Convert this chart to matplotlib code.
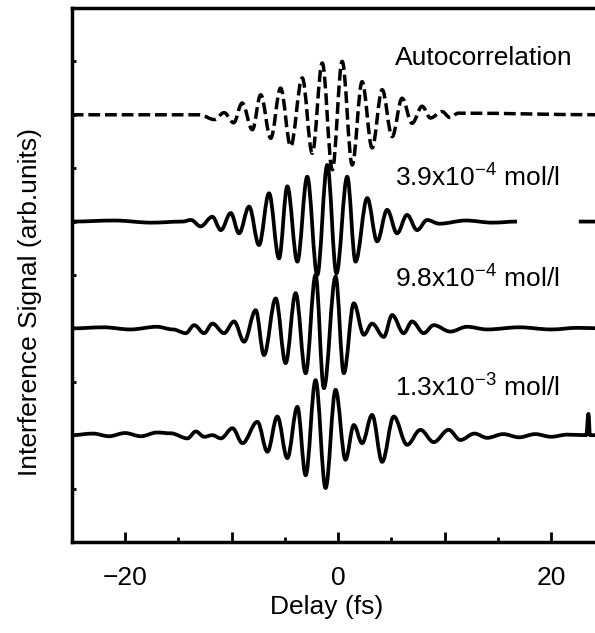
import numpy as np
import matplotlib
matplotlib.use("Agg")
import matplotlib.pyplot as plt
from matplotlib.path import Path
from matplotlib.patches import PathPatch

# peaks / troughs of each trace
# delay in fs, signal relative to the trace baseline (arb. units)
auto_delay = [-25, -13.0, -11.6, -10.7, -9.8, -9.0, -8.04, -7.26, -6.32, -5.39,
              -4.45, -3.36, -2.42, -1.48, -0.54, 0.39, 1.33, 2.26, 3.20, 4.14,
              5.08, 6.01, 6.95, 7.89, 8.67, 9.76, 10.5, 11.3, 25]
auto_signal = [0, 0, -0.09, 0.04, -0.15, 0.22, -0.28, 0.375, -0.44, 0.50,
               -0.59, 0.69, -0.72, 0.97, -1.03, 1.0, -0.94, 0.62, -0.62, 0.47,
               -0.41, 0.31, -0.16, 0.16, -0.06, 0.06, -0.05, 0.03, 0]

c39_delay = [-25, -21.0, -17.5, -14.6, -13.8, -12.9, -11.8, -11.0, -10.07, -9.29,
             -8.35, -7.42, -6.48, -5.54, -4.76, -3.82, -2.89, -1.95, -1.01, -0.15,
             0.86, 1.64, 2.74, 3.67, 4.61, 5.54, 6.48, 7.42, 8.36, 9.5,
             12.0, 14.5, 16.8, 19.0, 22.6, 25]
c39_signal = [0, 0.02, -0.02, 0.0, 0.03, -0.09, 0.09, -0.16, 0.16, -0.22,
              0.28, -0.44, 0.53, -0.69, 0.66, -0.75, 0.84, -1.0, 1.06, -0.97,
              0.84, -0.75, 0.44, -0.37, 0.22, -0.22, 0.125, -0.16, 0.03, -0.04,
              0.02, -0.02, 0.0, np.nan, 0.0, 0.0]

c98_delay = [-25, -22.0, -19.5, -17.0, -15.5, -14.29, -13.5, -12.57, -11.79, -10.7,
             -9.76, -8.82, -7.73, -6.95, -5.85, -4.92, -3.98, -3.04, -2.11, -1.33,
             -0.23, 0.54, 1.48, 2.42, 3.2, 4.29, 5.08, 6.16, 6.95, 8.04,
             8.98, 10.54, 12.1, 14.0, 17.0, 20.0, 22.5, 25]
c98_signal = [0, 0.02, -0.02, 0.03, -0.02, -0.09, 0.06, -0.09, 0.09, -0.09,
              0.13, -0.25, 0.34, -0.5, 0.56, -0.65, 0.66, -0.84, 1.0, -1.12,
              0.97, -0.84, 0.47, -0.12, 0.09, -0.16, 0.25, -0.09, 0.13, -0.09,
              0.06, -0.06, 0.03, -0.02, 0.02, -0.02, 0.01, 0]

c13_delay = [-25, -23.0, -21.5, -20.0, -18.5, -17.0, -15.69, -14.13, -13.35, -12.57,
             -11.79, -11.0, -9.91, -8.97, -7.57, -6.63, -5.7, -4.76, -3.82, -3.04,
             -2.11, -1.17, -0.23, 0.70, 1.48, 2.26, 3.2, 4.14, 5.23, 6.48,
             7.73, 8.98, 10.38, 11.48, 12.8, 14.0, 15.5, 17.0, 18.5, 20.0,
             21.5, 23.3, 23.5, 23.65, 25]
c13_signal = [0, 0.03, -0.02, 0.04, -0.02, 0.05, 0.035, -0.06, 0.07, -0.03,
              0.0, -0.06, 0.13, -0.15, 0.25, -0.31, 0.35, -0.43, 0.53, -0.75,
              1.03, -0.99, 0.85, -0.46, 0.19, -0.15, 0.38, -0.50, 0.35, -0.18,
              0.10, -0.13, 0.10, -0.09, 0.03, -0.05, 0.02, -0.04, 0.02, -0.03,
              0.01, 0.0, 0.40, 0.0, 0]

labels = ["Autocorrelation",
          r"3.9x10$^{-4}$ mol/l",
          r"9.8x10$^{-4}$ mol/l",
          r"1.3x10$^{-3}$ mol/l"]

plt.rcParams["font.family"] = "Liberation Sans"
plt.rcParams["mathtext.fontset"] = "custom"
plt.rcParams["mathtext.rm"] = "Liberation Sans"
plt.rcParams["mathtext.it"] = "Liberation Sans:italic"
plt.rcParams["mathtext.bf"] = "Liberation Sans:bold"


def wave_path(xs, ys, base, k=0.36):
    # smooth curve through the extrema (horizontal tangent at each one)
    verts, codes = [], []
    start = True
    for x, y in zip(xs, ys):
        if np.isnan(y):
            start = True
            continue
        y = y + base
        if start:
            verts.append((x, y))
            codes.append(Path.MOVETO)
            start = False
        else:
            x0, y0 = verts[-1]
            d = (x - x0) * k
            verts += [(x0 + d, y0), (x - d, y), (x, y)]
            codes += [Path.CURVE4] * 3
    return Path(verts, codes)


fig = plt.figure(figsize=(5.95, 6.33), dpi=100)
ax = fig.add_axes([0.1205, 0.1438, 0.8953, 0.8436])

traces = [(auto_delay, auto_signal), (c39_delay, c39_signal),
          (c98_delay, c98_signal), (c13_delay, c13_signal)]
offsets = [8, 6, 4, 2]
label_y = [8.93, 6.65, 4.76, 2.72]

for i, (xs, ys) in enumerate(traces):
    if i == 0:
        ls, lw = (0, (3.4, 1.4)), 2.5
    else:
        ls, lw = "solid", 2.7
    patch = PathPatch(wave_path(xs, ys, offsets[i]), fill=False,
                      edgecolor="black", linewidth=lw, linestyle=ls,
                      capstyle="butt", joinstyle="round")
    ax.add_patch(patch)
    ax.text(5.3, label_y[i], labels[i], fontsize=19, va="baseline",
            ha="left")

ax.set_xlim(-25, 25)
ax.set_ylim(0, 10)
ax.set_xticks([-20, -10, 0, 10, 20])
ax.set_xticklabels(["\u221220", "", "0", "", "20"])
ax.set_xticks([-15, -5, 5, 15], minor=True)
ax.set_yticks(range(1, 10))
ax.set_yticklabels([])
ax.tick_params(axis="x", which="major", direction="in", length=7, width=2,
               labelsize=19, pad=17)
ax.tick_params(axis="x", which="minor", direction="in", length=3.5, width=2)
ax.tick_params(axis="y", which="major", direction="in", length=3, width=2)
for side in ax.spines:
    ax.spines[side].set_linewidth(2.5)

fig.text(327 / 595, 1 - 607 / 633, "Delay (fs)", fontsize=19,
         ha="center", va="center")
fig.text(30 / 595, 1 - 302 / 633, "Interference Signal (arb.units)",
         fontsize=19, rotation=90, ha="center", va="center")

fig.savefig("out.png", dpi=100)
